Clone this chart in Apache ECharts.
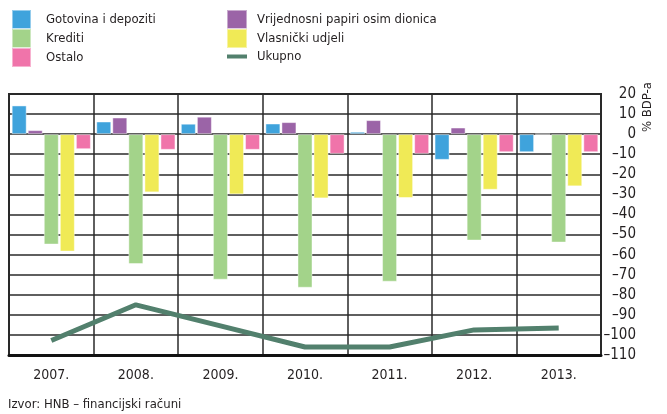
<!DOCTYPE html>
<html>
<head>
<meta charset="utf-8">
<script src="https://cdn.jsdelivr.net/npm/echarts@6/dist/echarts.min.js"></script>
<style>
  html, body { margin: 0; padding: 0; background: #fff; }
</style>
</head>
<body>
<div id="chart" style="width: 667px; height: 414px;"></div>
<script>
  // podaci
  let years = ['2007.', '2008.', '2009.', '2010.', '2011.', '2012.', '2013.'];
  let gotovina = [14.3, 6.3, 5.2, 5.3, 1.2, -12.8, -9];
  let vrijednosni = [2, 8.3, 8.7, 6, 7, 3.3, 0];
  let krediti = [-55, -64.7, -72.5, -76.5, -73.5, -53, -54];
  let vlasnicki = [-58.5, -29, -30, -32, -31.8, -27.7, -26];
  let ostalo = [-7.5, -7.8, -7.8, -9.8, -9.8, -9, -9];
  let ukupno = [-102.8, -85, -95.5, -106, -106, -97.5, -96.5];
  let yTicks = [-110, 20, 10]; // min, max, interval

  let FONT = "'Liberation Sans Narrow', 'DejaVu Sans Condensed', sans-serif";
  let TXT = '#231f20';
  let GRID_LINE = '#2a2a2a';

  let CHART = echarts.init(document.getElementById('chart'));

  function barSeries(name, data, color) {
    return {
      name: name,
      type: 'bar',
      data: data,
      barWidth: 15,
      barGap: '7%',
      itemStyle: {
        color: color,
        borderColor: 'rgba(255,255,255,0.45)',
        borderWidth: 1
      }
    };
  }

  let legendText = { fontFamily: FONT, fontSize: 13, color: TXT, lineHeight: 19 };

  CHART.setOption({
    animation: false,
    textStyle: { fontFamily: FONT, color: TXT },
    legend: [{
      left: 11, top: 9, padding: 0,
      orient: 'vertical',
      itemWidth: 19, itemHeight: 19, itemGap: -2,
      icon: 'rect',
      textStyle: Object.assign({ padding: [0, 0, 0, 10] }, legendText),
      data: ['Gotovina i depoziti', 'Krediti', 'Ostalo']
    }, {
      left: 225, top: 9, padding: 0,
      orient: 'vertical',
      itemWidth: 20, itemHeight: 19, itemGap: -2,
      textStyle: Object.assign({ padding: [0, 0, 0, 5] }, legendText),
      data: [
        { name: 'Vrijednosni papiri osim dionica', icon: 'rect' },
        { name: 'Vlasnički udjeli', icon: 'rect' },
        { name: 'Ukupno', itemStyle: { opacity: 0 }, lineStyle: { width: 4 } }
      ]
    }],
    grid: {
      left: 9, right: 66, top: 94, bottom: 59,
      show: true,
      borderColor: GRID_LINE,
      borderWidth: 2
    },
    xAxis: {
      type: 'category',
      data: years,
      axisLine: { onZero: false, lineStyle: { color: '#111', width: 3 } },
      axisTick: { show: false },
      splitLine: { show: true, lineStyle: { color: GRID_LINE, width: 1.5 } },
      axisLabel: { fontFamily: FONT, fontSize: 14, color: TXT, margin: 13 }
    },
    yAxis: {
      type: 'value',
      position: 'right',
      min: yTicks[0], max: yTicks[1], interval: yTicks[2],
      axisLine: { show: false },
      axisTick: { show: false },
      splitLine: { lineStyle: { color: GRID_LINE, width: 1.5 } },
      axisLabel: {
        fontFamily: FONT, fontSize: 15, color: TXT,
        align: 'right', margin: 35,
        formatter: function (v) { return String(v).replace('-', '\u2013'); }
      }
    },
    graphic: [{
      type: 'text',
      left: 641, top: 82,
      rotation: Math.PI / 2,
      style: { text: '% BDP-a', font: '13px ' + FONT, fill: TXT }
    }, {
      type: 'text',
      left: 8, top: 398,
      style: { text: 'Izvor: HNB – financijski računi', font: '13px ' + FONT, fill: TXT }
    }],
    series: [
      barSeries('Gotovina i depoziti', gotovina, '#3fa3dc'),
      barSeries('Vrijednosni papiri osim dionica', vrijednosni, '#9b64a7'),
      barSeries('Krediti', krediti, '#a3d38a'),
      barSeries('Vlasnički udjeli', vlasnicki, '#f0ea56'),
      barSeries('Ostalo', ostalo, '#f074aa'),
      {
        name: 'Ukupno',
        type: 'line',
        data: ukupno,
        symbol: 'none',
        color: '#52806d',
        lineStyle: { width: 5, color: '#52806d', cap: 'butt' }
      }
    ]
  });
</script>
</body>
</html>
